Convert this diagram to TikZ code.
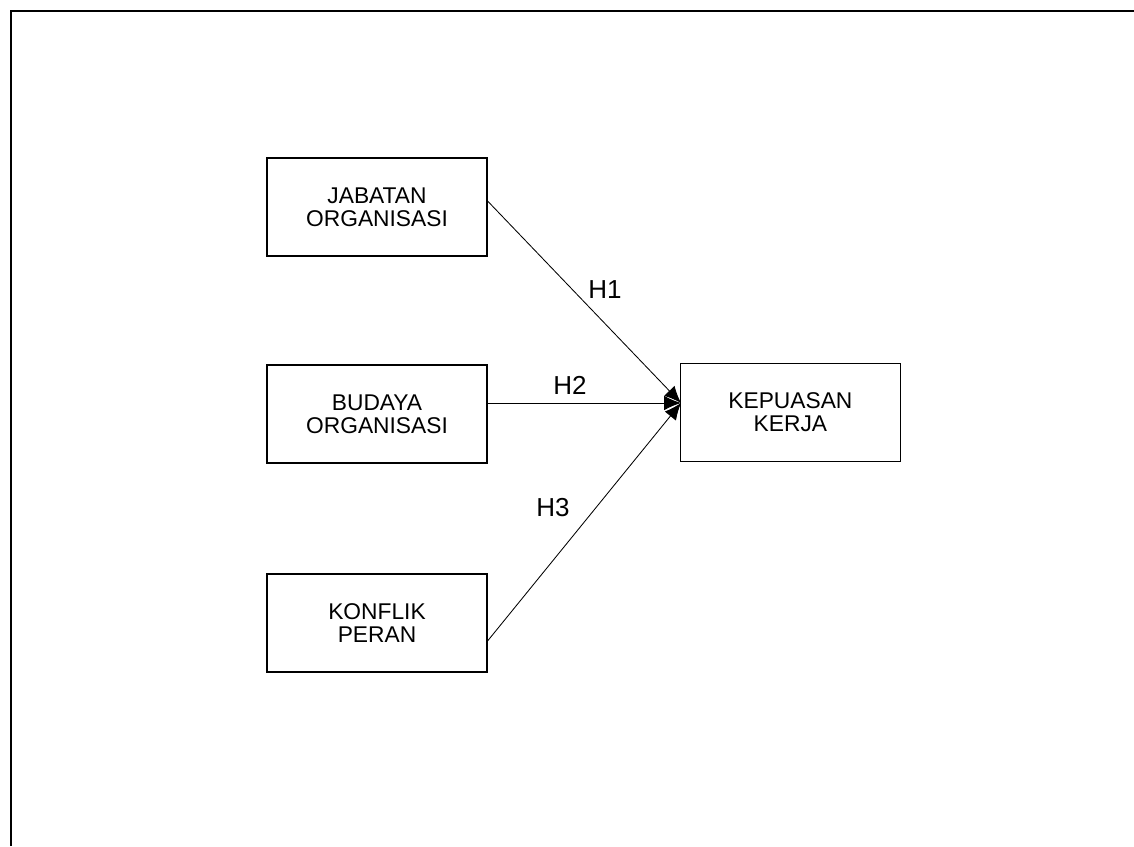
\documentclass[tikz,border=0pt]{standalone}
\usepackage{fontspec}
\setmainfont{Liberation Sans}
\usetikzlibrary{arrows.meta}

\begin{document}
\begin{tikzpicture}[scale=1.0,
  var/.style={draw, line width=0.8pt, minimum width=5.5cm, minimum height=2.45cm,
    align=center, font=\fontsize{16.2}{16.3}\selectfont, inner sep=0pt},
  hyp/.style={font=\fontsize{18.5}{20}\selectfont},
  link/.style={line width=0.6pt, -{Latex[length=0.42cm, width=0.36cm]}}]
\useasboundingbox (0,0) rectangle (28.35,21.15);

\draw[line width=1.4pt] (0.275,0) -- (0.275,20.875) -- (28.35,20.875);

\node[var] (jab) at (9.425,15.975) {JABATAN\\ORGANISASI};
\node[var] (bud) at (9.425,10.8) {BUDAYA\\ORGANISASI};
\node[var] (kon) at (9.425,5.575) {KONFLIK\\PERAN};
\node[var] (kep) at (19.76,10.84) {KEPUASAN\\KERJA};

\coordinate (tip) at (17.025,11.075);

\draw[link] ([yshift=0.15cm]jab.east) -- (tip);
\draw[link] (bud.east |- tip) -- (tip);
\draw[link] ([yshift=-0.45cm]kon.east) -- (tip);

\node[hyp] (h1) at (15.125,13.9) {H1};
\node[hyp] (h2) at (14.25,11.525) {H2};
\node[hyp] (h3) at (13.825,8.45) {H3};
\end{tikzpicture}
\end{document}
